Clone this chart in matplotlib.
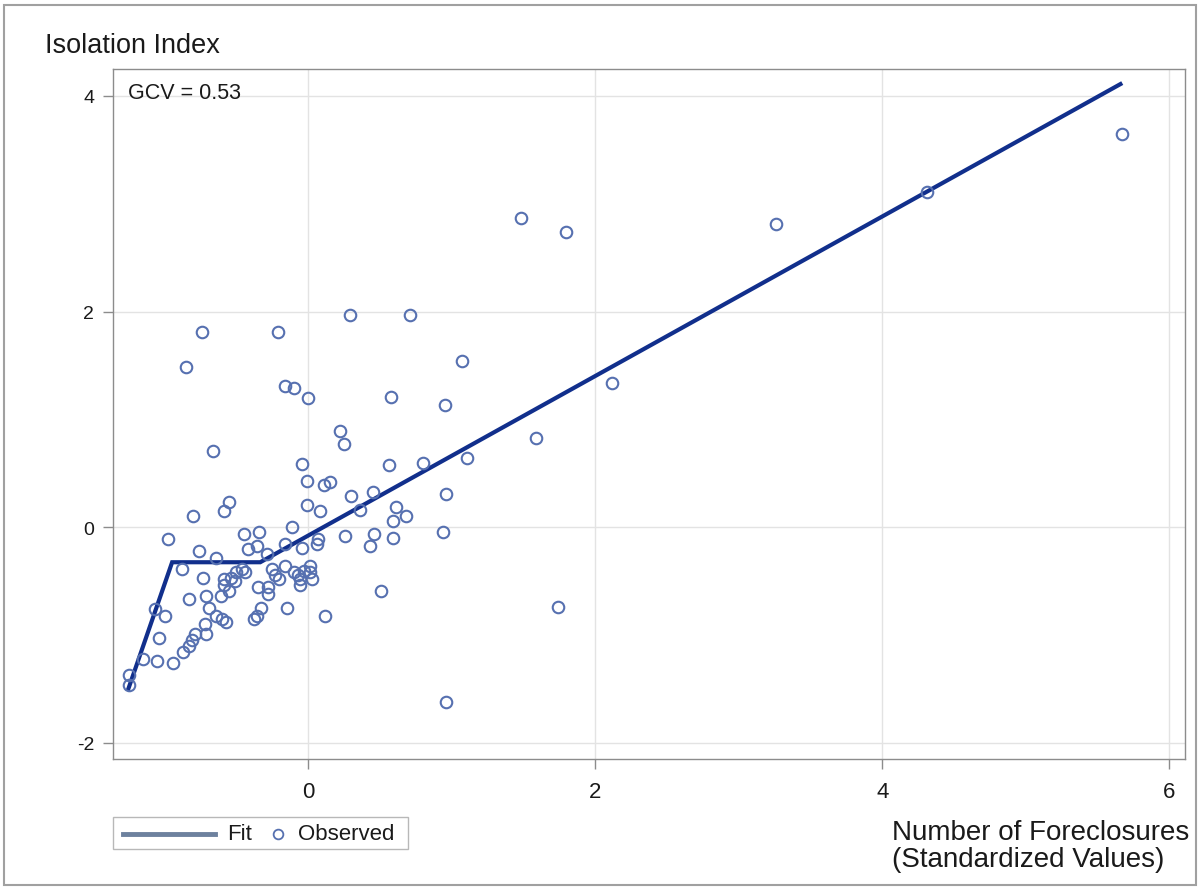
import matplotlib
matplotlib.use("Agg")
import matplotlib.pyplot as plt
from matplotlib.lines import Line2D
from matplotlib.patches import Rectangle
from matplotlib import font_manager

plt.rcParams['font.family'] = ['Liberation Sans', 'DejaVu Sans']
plt.rcParams['axes.unicode_minus'] = False

# observed points (standardized foreclosures, isolation index)
obs_x = [5.67, 4.31, 3.26, 1.48, 1.80, 2.12, 1.59, 1.74, 0.96, 1.07, 0.71, 0.29,
         0.58, 0.95, 0.22, 0.25, 0.56, 0.80, 1.11, 0.15, 0.11, 0.30, 0.45, 0.36,
         0.96, 0.61, 0.68, 0.59, 0.26, 0.46, 0.43, 0.59, 0.94, 0.51, 0.12,
         -0.74, -0.21, -0.85, -0.16, -0.10, 0.00, -0.66, -0.04, -0.01, -0.01, 0.08,
         -0.55, -0.59, -0.80, -0.98,
         -0.34, -0.11, -0.36, -0.16, -0.04, 0.06, 0.07, -0.29, -0.25, -0.16,
         -0.20, -0.23, -0.10, -0.07, -0.03, 0.01, 0.01, 0.03, -0.06, -0.06,
         -0.35, -0.28, -0.28, -0.15, -0.33, -0.36, -0.38,
         -0.45, -0.42, -0.76, -0.64, -0.88, -0.73, -0.59, -0.54, -0.50, -0.46,
         -0.44, -0.51, -0.59, -0.55, -0.61, -0.71, -0.83, -0.69, -0.64, -0.60,
         -0.57, -0.72, -0.71,
         -1.07, -1.00, -0.79, -0.81, -0.83, -0.87, -1.04, -0.94, -1.05, -1.15,
         -1.25, -1.25]
obs_y = [3.65, 3.11, 2.81, 2.87, 2.74, 1.34, 0.83, -0.74, -1.62, 1.54, 1.97, 1.97,
         1.21, 1.13, 0.89, 0.77, 0.58, 0.60, 0.64, 0.42, 0.39, 0.29, 0.33, 0.16,
         0.31, 0.19, 0.10, 0.06, -0.08, -0.06, -0.17, -0.10, -0.04, -0.59, -0.82,
         1.81, 1.81, 1.49, 1.31, 1.29, 1.20, 0.71, 0.59, 0.43, 0.21, 0.15,
         0.23, 0.15, 0.10, -0.11,
         -0.04, 0.00, -0.17, -0.16, -0.19, -0.16, -0.11, -0.25, -0.39, -0.36,
         -0.48, -0.44, -0.42, -0.44, -0.41, -0.36, -0.42, -0.48, -0.48, -0.54,
         -0.55, -0.55, -0.62, -0.75, -0.75, -0.82, -0.85,
         -0.06, -0.20, -0.22, -0.29, -0.39, -0.47, -0.48, -0.47, -0.42, -0.39,
         -0.42, -0.50, -0.54, -0.59, -0.64, -0.64, -0.67, -0.75, -0.82, -0.85,
         -0.88, -0.90, -0.99,
         -0.76, -0.82, -0.99, -1.05, -1.10, -1.16, -1.03, -1.26, -1.24, -1.22,
         -1.37, -1.46]

# fitted piecewise linear curve (knots)
fit_x = [-1.254, -0.948, -0.334, 5.66]
fit_y = [-1.503, -0.325, -0.325, 4.11]

x_ticks = [0, 2, 4, 6]
y_ticks = [-2, 0, 2, 4]

FIT_COLOR = "#112f8c"
OBS_COLOR = "#5670b0"
GRID = "#e3e3e3"
SPINE = "#8c8c8c"
TXT = "#1a1a1a"

# narrow font for tick labels if available
names = {f.name for f in font_manager.fontManager.ttflist}
tick_family = "Liberation Sans Narrow" if "Liberation Sans Narrow" in names else "Liberation Sans"

W, H = 1200, 895
fig = plt.figure(figsize=(12, 8.95), dpi=100)
ax = fig.add_axes([113 / W, 1 - 760 / H, (1185 - 113) / W, (760 - 70) / H])

ax.plot(fit_x, fit_y, color=FIT_COLOR, lw=3.0, zorder=3, solid_joinstyle="miter")
ax.plot(obs_x, obs_y, linestyle="none", marker="o", markersize=8.3,
        markerfacecolor="none", markeredgecolor=OBS_COLOR, markeredgewidth=1.5, zorder=4)

ax.set_xlim(-1.36, 6.11)
ax.set_ylim(-2.15, 4.25)
ax.set_xticks(x_ticks)
ax.set_yticks(y_ticks)
ax.grid(True, color=GRID, lw=1.0, zorder=0)
ax.set_axisbelow(True)
for s in ax.spines.values():
    s.set_color(SPINE)
    s.set_linewidth(1.0)
ax.tick_params(axis="both", direction="out", length=7.5, width=1, color=SPINE,
               labelcolor=TXT)
ax.tick_params(axis="x", pad=8, labelsize=16)
ax.tick_params(axis="y", pad=6, labelsize=14)
for lab in ax.get_xticklabels() + ax.get_yticklabels():
    lab.set_family(tick_family)

fig.text(128 / W, 1 - 99 / H, "GCV = 0.53", ha="left", va="baseline",
         fontsize=15.5, color=TXT)

fig.text(45 / W, 1 - 53 / H, "Isolation Index", fontsize=19.5, color=TXT,
         ha="left", va="baseline")
fig.text(892 / W, 1 - 840 / H, "Number of Foreclosures", fontsize=20, color=TXT,
         ha="left", va="baseline")
fig.text(892 / W, 1 - 867 / H, "(Standardized Values)", fontsize=20, color=TXT,
         ha="left", va="baseline")

# legend drawn by hand to match the compact layout
fig.add_artist(Rectangle((113 / W, 1 - 850 / H), (408 - 113) / W, (850 - 818) / H,
                         transform=fig.transFigure, fill=False,
                         edgecolor="#b8b8b8", lw=1.0))
fig.add_artist(Line2D([123 / W, 215 / W], [1 - 835 / H, 1 - 835 / H],
                      transform=fig.transFigure, color="#6d819e", lw=3.5))
fig.text(227 / W, 1 - 835 / H, "Fit", fontsize=16, color=TXT, ha="left", va="center",
         family=tick_family)
fig.add_artist(Line2D([278 / W], [1 - 835 / H], transform=fig.transFigure,
                      linestyle="none", marker="o", markersize=7,
                      markerfacecolor="none", markeredgecolor=OBS_COLOR,
                      markeredgewidth=1.3))
fig.text(298 / W, 1 - 835 / H, "Observed", fontsize=16, color=TXT, ha="left",
         va="center", family=tick_family)

# outer frame of the graph area
fig.add_artist(Rectangle((4 / W, 1 - 886 / H), 1 - 8 / W, (886 - 6) / H,
                         transform=fig.transFigure, fill=False,
                         edgecolor="#a0a0a0", lw=1.5))

fig.savefig("out.png", dpi=100)
